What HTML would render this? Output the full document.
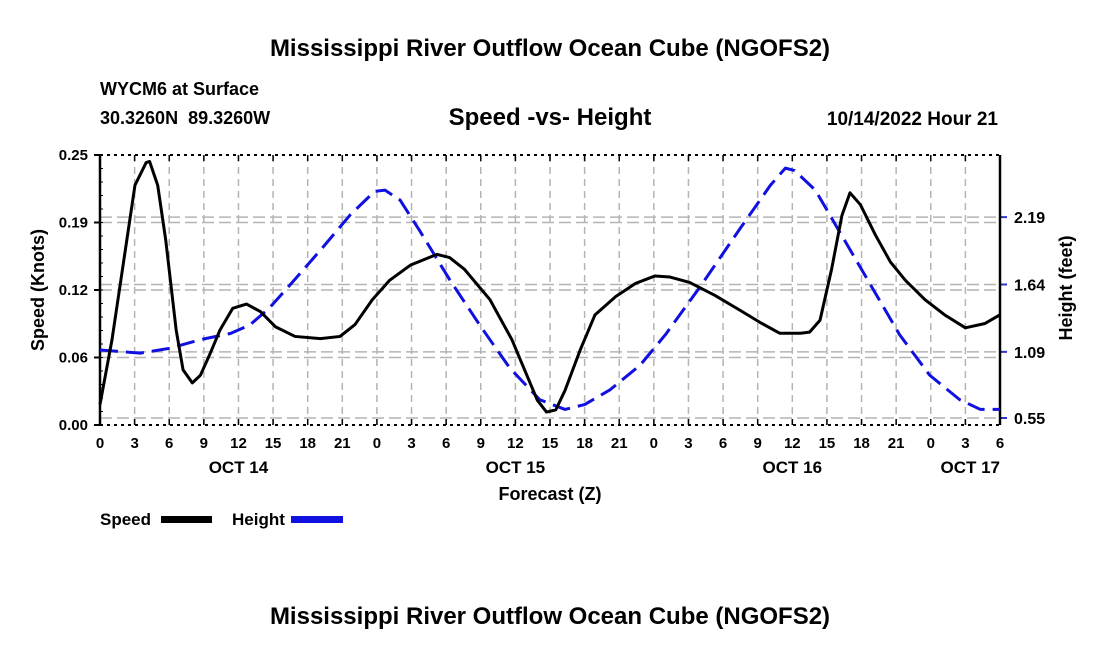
<!DOCTYPE html>
<html><head><meta charset="utf-8"><style>
body{margin:0;background:#fff;}
svg text{font-family:"Liberation Sans",sans-serif;font-weight:bold;fill:#000;}
</style></head><body>
<svg id="c" width="1100" height="650" xmlns="http://www.w3.org/2000/svg">
<text x="550" y="56" font-size="24" text-anchor="middle">Mississippi River Outflow Ocean Cube (NGOFS2)</text>
<text x="100" y="95" font-size="18">WYCM6 at Surface</text>
<text x="100" y="124" font-size="18">30.3260N &#160;89.3260W</text>
<text x="550" y="125" font-size="24" text-anchor="middle">Speed -vs- Height</text>
<text x="998" y="125" font-size="19" text-anchor="end">10/14/2022 Hour 21</text>
<text x="550" y="500" font-size="18" text-anchor="middle">Forecast (Z)</text>
<text transform="translate(44,290) rotate(-90)" font-size="18" text-anchor="middle">Speed (Knots)</text>
<text transform="translate(1072,288) rotate(-90)" font-size="18" text-anchor="middle">Height (feet)</text>
<text x="100" y="525" font-size="17">Speed</text>
<rect x="161" y="516" width="51" height="7" fill="#000"/>
<text x="232" y="525" font-size="17">Height</text>
<rect x="291" y="516" width="52" height="7" fill="#1010e0"/>
<text x="550" y="624" font-size="24" text-anchor="middle">Mississippi River Outflow Ocean Cube (NGOFS2)</text>
<g id="g"></g>
</svg>
<script>
const speedHours=[0,1.04,2,3.03,4,4.3,5,5.7,6.6,7.2,8,8.7,9.5,10.4,11.5,12.7,13.9,15.2,16.9,19.1,20.8,22.1,23.6,25.1,26.9,29.2,30.3,31.6,33.8,35.7,36.8,37.9,38.7,39.5,40.3,41.6,42.9,44.7,46.4,48.1,49.4,51.1,53.3,55.5,57.2,58.9,60.7,61.5,62.4,63.4,64.3,65,65.9,67.2,68.5,69.8,71.5,73.2,75,76.7,78];
const speedValues=[.019,.079,.148,.222,.243,.244,.222,.171,.088,.051,.039,.046,.065,.088,.108,.112,.105,.091,.082,.080,.082,.093,.116,.134,.148,.158,.155,.144,.116,.079,.051,.023,.012,.014,.032,.069,.102,.119,.131,.138,.137,.132,.120,.106,.095,.085,.085,.086,.097,.144,.194,.215,.204,.176,.151,.134,.116,.102,.090,.094,.102];
const heightHours=[0,3.5,6.1,8.7,11.3,13,14.7,16.5,19.1,21.7,23.8,24.7,26,27.7,30.3,32.9,35.5,38.1,40.3,42,44.2,46.8,49,52,55.5,58.1,59.4,60.2,62,64.1,66.7,69.3,71.9,74.5,76.3,78];
const heightValues=[1.105,1.08,1.12,1.19,1.24,1.31,1.45,1.64,1.92,2.21,2.40,2.41,2.33,2.08,1.68,1.31,0.96,0.70,0.62,0.66,0.78,0.98,1.23,1.62,2.10,2.45,2.59,2.57,2.41,2.07,1.65,1.23,0.90,0.70,0.62,0.62];
const xTickLabels=["0","3","6","9","12","15","18","21","0","3","6","9","12","15","18","21","0","3","6","9","12","15","18","21","0","3","6"];
const dayLabels=["OCT 14","OCT 15","OCT 16","OCT 17"];
const dayHours=[12,36,60,75];
const leftTicks=[0,0.0625,0.125,0.1875,0.25];
const leftTickLabels=["0.00","0.06","0.12","0.19","0.25"];
const rightTicks=[0.55,1.09,1.64,2.19];
const rightTickLabels=["0.55","1.09","1.64","2.19"];

const L=100,R=1000,T=155,B=425;
const xs=h=>L+h*(R-L)/78;
const ys=v=>B-v*(B-T)/0.25;
const yh=v=>418-(v-0.55)*(67/0.547);
const g=document.getElementById('g');
const NS='http://www.w3.org/2000/svg';
function mk(tag,attrs){const e=document.createElementNS(NS,tag);for(const k in attrs)e.setAttribute(k,attrs[k]);g.appendChild(e);return e;}
xTickLabels.forEach((t,i)=>{const x=xs(i*3);
 if(i>0&&i<xTickLabels.length-1){const l=mk('line',{x1:x,x2:x,y1:T,y2:B,stroke:'#b4b4b4','stroke-width':1.5,'stroke-dasharray':'7,5'});
 
 }
 mk('line',{x1:x,x2:x,y1:B,y2:B-6,stroke:'#000','stroke-width':1.5});
 mk('line',{x1:x,x2:x,y1:T,y2:T+6,stroke:'#000','stroke-width':1.5});
 const tx=mk('text',{x:x,y:B+23,'font-size':15,'text-anchor':'middle'});tx.textContent=t;
 
 
});
dayLabels.forEach((d,i)=>{const tx=mk('text',{x:i==3?1000:xs(dayHours[i]),y:473,'font-size':17,'text-anchor':i==3?'end':'middle'});tx.textContent=d;
 
 });
leftTicks.forEach((v,i)=>{const y=ys(v);
 if(i>0&&i<4){const l=mk('line',{x1:L,x2:R,y1:y,y2:y,stroke:'#b4b4b4','stroke-width':1.5,'stroke-dasharray':'12,5'});
 
 }
 mk('line',{x1:L-6,x2:L,y1:y,y2:y,stroke:'#000','stroke-width':2});
 const tx=mk('text',{x:L-12,y:y+5,'font-size':15,'text-anchor':'end'});tx.textContent=leftTickLabels[i];
 
 });
for(let k=1;k<20;k++){const y=B-k*(B-T)/20;mk('line',{x1:L,x2:L+3,y1:y,y2:y,stroke:'#000','stroke-width':1});}
rightTicks.forEach((v,i)=>{const y=yh(v);
 const l=mk('line',{x1:L,x2:R,y1:y,y2:y,stroke:'#b4b4b4','stroke-width':1.5,'stroke-dasharray':'12,5'});
 
 
 mk('line',{x1:R,x2:R+7,y1:y,y2:y,stroke:'#3030d0','stroke-width':2});
 const tx=mk('text',{x:R+14,y:y+6,'font-size':16});tx.textContent=rightTickLabels[i];
 
 });
mk('line',{x1:L,x2:R,y1:T,y2:T,stroke:'#000','stroke-width':2,'stroke-dasharray':'3,4'});
mk('line',{x1:L,x2:R,y1:B,y2:B,stroke:'#000','stroke-width':2,'stroke-dasharray':'3,4'});
mk('line',{x1:L,x2:L,y1:T,y2:B,stroke:'#000','stroke-width':2.5});
mk('line',{x1:R,x2:R,y1:T,y2:B,stroke:'#000','stroke-width':2.5});
const hp=heightHours.map((h,i)=>xs(h)+','+yh(heightValues[i])).join(' ');
const hl=mk('polyline',{points:hp,fill:'none',stroke:'#1010e0','stroke-width':3,'stroke-dasharray':'18,8','stroke-linejoin':'round'});


const sp=speedHours.map((h,i)=>xs(h)+','+ys(speedValues[i])).join(' ');
const sl=mk('polyline',{points:sp,fill:'none',stroke:'#000','stroke-width':3,'stroke-linejoin':'round'});


</script>
</body></html>
